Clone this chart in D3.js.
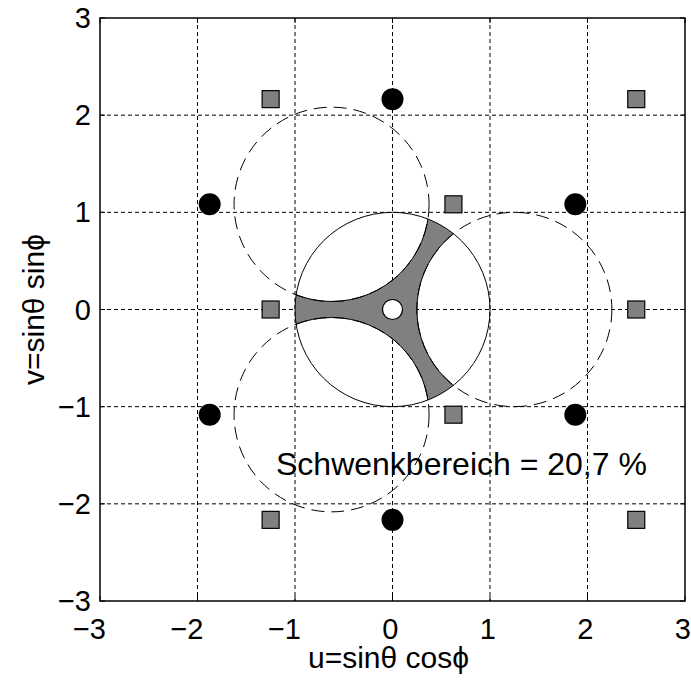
<!DOCTYPE html>
<html>
<head>
<meta charset="utf-8">
<script src="https://cdn.jsdelivr.net/npm/d3@7"></script>
<style>
  body { margin: 0; background: #fff; }
  svg text { font-family: "Liberation Sans", Arial, Helvetica, sans-serif; }
</style>
</head>
<body>
<div id="chart"></div>
<script>
// tick values and labels
const xTicks = [-3, -2, -1, 0, 1, 2, 3];
const yTicks = [-3, -2, -1, 0, 1, 2, 3];
const tickLabels = ["\u22123", "\u22122", "\u22121", "0", "1", "2", "3"];

// main lobes (black circles)
const lobeU = [0, 1.875, 1.875, 0, -1.875, -1.875];
const lobeV = [2.165, 1.0825, -1.0825, -2.165, -1.0825, 1.0825];

// grating lobes (grey squares)
const gratU = [-1.25, 2.5, 0.625, -1.25, 2.5, 0.625, -1.25, 2.5];
const gratV = [2.165, 2.165, 1.0825, 0, 0, -1.0825, -2.165, -2.165];

// dashed unit circles around neighbouring lobes
const ringU = [-0.625, 1.25, -0.625];
const ringV = [1.0825, 0, -1.0825];
const ringR = 1;

const labelText = "Schwenkbereich = 20,7 %";
const xLabel = "u=sin\u03b8 cos\u03d5";
const yLabel = "v=sin\u03b8 sin\u03d5";

const W = 691, H = 682;
const plotL = 100, plotR = 685, plotT = 18, plotB = 601;
const tickFont = 29;

const svg = d3.select("#chart").append("svg")
    .attr("width", W)
    .attr("height", H);

const x = d3.scaleLinear().domain([-3, 3]).range([plotL, plotR]);
const y = d3.scaleLinear().domain([-3, 3]).range([plotB, plotT]);
const rx = x(1) - x(0);
const ry = y(0) - y(1);

// grid
svg.append("g")
    .selectAll("line")
    .data(xTicks.slice(1, -1))
    .join("line")
    .attr("x1", d => x(d)).attr("x2", d => x(d))
    .attr("y1", plotT).attr("y2", plotB)
    .attr("stroke", "#000").attr("stroke-width", 1)
    .attr("stroke-dasharray", "4,3");

svg.append("g")
    .selectAll("line")
    .data(yTicks.slice(1, -1))
    .join("line")
    .attr("y1", d => y(d)).attr("y2", d => y(d))
    .attr("x1", plotL).attr("x2", plotR)
    .attr("stroke", "#000").attr("stroke-width", 1)
    .attr("stroke-dasharray", "4,3");

// shaded region: inside unit circle, outside the dashed circles
const defs = svg.append("defs");
const mask = defs.append("mask").attr("id", "scanMask");
mask.append("ellipse")
    .attr("cx", x(0)).attr("cy", y(0))
    .attr("rx", rx).attr("ry", ry)
    .attr("fill", "#fff");
mask.selectAll("ellipse.hole")
    .data(ringU)
    .join("ellipse")
    .attr("class", "hole")
    .attr("cx", d => x(d)).attr("cy", (d, i) => y(ringV[i]))
    .attr("rx", rx * ringR).attr("ry", ry * ringR)
    .attr("fill", "#000");

defs.append("clipPath").attr("id", "unitClip")
    .append("ellipse")
    .attr("cx", x(0)).attr("cy", y(0))
    .attr("rx", rx).attr("ry", ry);

svg.append("rect")
    .attr("x", plotL).attr("y", plotT)
    .attr("width", plotR - plotL).attr("height", plotB - plotT)
    .attr("fill", "#808080")
    .attr("mask", "url(#scanMask)");

// unit circle
svg.append("ellipse")
    .attr("cx", x(0)).attr("cy", y(0))
    .attr("rx", rx).attr("ry", ry)
    .attr("fill", "none").attr("stroke", "#000").attr("stroke-width", 1);

// dashed circles
svg.append("g")
    .selectAll("ellipse")
    .data(ringU)
    .join("ellipse")
    .attr("cx", d => x(d)).attr("cy", (d, i) => y(ringV[i]))
    .attr("rx", rx * ringR).attr("ry", ry * ringR)
    .attr("fill", "none").attr("stroke", "#000").attr("stroke-width", 1)
    .attr("stroke-dasharray", "13,7");

// solid edge of the shaded region (inside the unit circle)
svg.append("g")
    .attr("clip-path", "url(#unitClip)")
    .selectAll("ellipse")
    .data(ringU)
    .join("ellipse")
    .attr("cx", d => x(d)).attr("cy", (d, i) => y(ringV[i]))
    .attr("rx", rx * ringR).attr("ry", ry * ringR)
    .attr("fill", "none").attr("stroke", "#000").attr("stroke-width", 1);

// centre
svg.append("circle")
    .attr("cx", x(0)).attr("cy", y(0)).attr("r", 10)
    .attr("fill", "#fff").attr("stroke", "#000").attr("stroke-width", 1.2);

// grating lobes
svg.append("g")
    .selectAll("rect")
    .data(gratU)
    .join("rect")
    .attr("x", d => x(d) - 8.5)
    .attr("y", (d, i) => y(gratV[i]) - 8.5)
    .attr("width", 17).attr("height", 17)
    .attr("fill", "#808080").attr("stroke", "#000").attr("stroke-width", 1.2);

// main lobes
svg.append("g")
    .selectAll("circle")
    .data(lobeU)
    .join("circle")
    .attr("cx", d => x(d)).attr("cy", (d, i) => y(lobeV[i]))
    .attr("r", 11)
    .attr("fill", "#000");

// inner ticks
const tk = 5;
const ticks = svg.append("g").attr("stroke", "#000").attr("stroke-width", 1);
ticks.selectAll("line.bx").data(xTicks).join("line").attr("class", "bx")
    .attr("x1", d => x(d)).attr("x2", d => x(d))
    .attr("y1", plotB).attr("y2", plotB - tk);
ticks.selectAll("line.tx").data(xTicks).join("line").attr("class", "tx")
    .attr("x1", d => x(d)).attr("x2", d => x(d))
    .attr("y1", plotT).attr("y2", plotT + tk);
ticks.selectAll("line.ly").data(yTicks).join("line").attr("class", "ly")
    .attr("y1", d => y(d)).attr("y2", d => y(d))
    .attr("x1", plotL).attr("x2", plotL + tk);
ticks.selectAll("line.ry").data(yTicks).join("line").attr("class", "ry")
    .attr("y1", d => y(d)).attr("y2", d => y(d))
    .attr("x1", plotR).attr("x2", plotR - tk);

// axes box
svg.append("rect")
    .attr("x", plotL).attr("y", plotT)
    .attr("width", plotR - plotL).attr("height", plotB - plotT)
    .attr("fill", "none").attr("stroke", "#000").attr("stroke-width", 1.5);

// tick labels (digit roughly centred on the tick, minus sign hanging left)
svg.append("g")
    .selectAll("text")
    .data(xTicks)
    .join("text")
    .attr("x", d => x(d) + 6).attr("y", 639)
    .attr("text-anchor", "end")
    .style("font-size", tickFont + "px")
    .text((d, i) => tickLabels[i]);

svg.append("g")
    .selectAll("text")
    .data(yTicks)
    .join("text")
    .attr("x", 91).attr("y", d => y(d) + 10)
    .attr("text-anchor", "end")
    .style("font-size", tickFont + "px")
    .text((d, i) => tickLabels[i]);

// axis labels
svg.append("text")
    .attr("x", 308).attr("y", 668)
    .style("font-size", "30px")
    .text(xLabel);

svg.append("text")
    .attr("transform", `translate(44,${y(0)}) rotate(-90)`)
    .attr("text-anchor", "middle")
    .style("font-size", "30px")
    .text(yLabel);

svg.append("text")
    .attr("x", 276).attr("y", 475)
    .style("font-size", "32px")
    .text(labelText);
</script>
</body>
</html>
